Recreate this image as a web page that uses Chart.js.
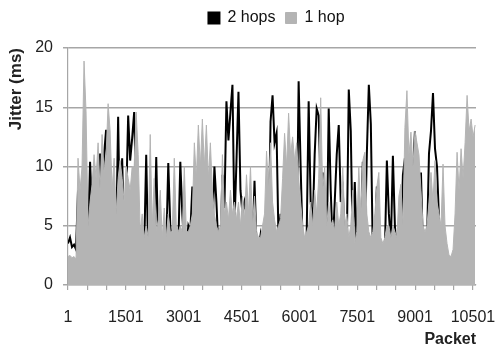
<!DOCTYPE html>
<html>
<head>
<meta charset="utf-8">
<script src="https://cdn.jsdelivr.net/npm/chart.js@4.4.0/dist/chart.umd.min.js"></script>
<style>
  html, body { margin: 0; padding: 0; background: #fff; }
  #wrap { width: 497px; height: 349px; }
</style>
</head>
<body>
<div id="wrap"><canvas id="grafico"></canvas></div>
<script>
// jitter, one sample every ~52 packets
var passoPacotes = 52;
var rotulosX = [1, 1501, 3001, 4501, 6001, 7501, 9001, 10501];

var umSalto = [
  2.4, 2.5, 2.3, 2.4, 2.2, 10.7, 8, 10, 18.9, 14.6,
  5, 7, 8.5, 11, 9, 12, 8, 12.7, 9.5, 11,
  15.3, 13, 8, 10.7, 6, 9, 10.5, 9, 7, 10,
  9, 8, 10, 10, 14.6, 11, 4.5, 6, 4, 5,
  4, 12.7, 5, 9, 4.5, 5.5, 8, 4, 6.5, 4,
  6, 4.5, 4.5, 10.7, 5, 4.5, 5, 4.5, 10, 4.5,
  4.5, 5, 6, 12, 9, 13.5, 10, 14, 10, 13.5,
  9, 12, 8, 6, 5, 4.5, 5, 11, 6, 7,
  5.5, 8, 6, 7, 5.5, 7, 5, 7.5, 5.5, 9.3,
  6, 10, 5, 7.5, 4.5, 4, 4, 5, 6, 11.3,
  8, 12, 7, 5.5, 4.5, 5, 5.6, 9, 12.8, 10,
  14.5, 11, 12.5, 10.5, 12, 9, 7, 5, 4, 4.5,
  5, 7, 5, 8, 6, 9, 15.8, 8, 10, 5,
  7, 5, 5.5, 4.5, 7, 5, 6, 10, 5, 6,
  4, 5, 8, 3.5, 4.5, 10, 6, 10.5, 11.2, 6,
  4.5, 4, 4.5, 6, 8.3, 9.5, 4, 3.5, 4, 5,
  5, 4, 5, 4.5, 4, 7.5, 8.5, 5, 13.3, 16.4,
  11, 12.9, 10, 13, 12, 11, 8, 5, 4.5, 5,
  7, 9.5, 7, 10.5, 7, 6, 5, 10.2, 5, 3.5,
  2.5, 2.4, 3, 6, 11.2, 8, 11.5, 9, 12, 16,
  13, 14, 12.5, 13.5
];

var doisSaltos = [
  3.5, 4.0, 3.2, 3.4, 3.0, 8.0, 4.8, 3.5, 3.3, 3.0,
  3.2, 10.4, 6, 3.5, 3.2, 4.5, 11.1, 8, 11, 13.1,
  6, 4, 3.5, 3.2, 3.4, 14.2, 3.3, 10.7, 3.5, 7,
  14.3, 10.5, 12.4, 14.6, 7.4, 3.0, 3.2, 3.0, 3.1, 11,
  2.4, 3, 3.2, 2.8, 10.8, 3.0, 2.8, 3.2, 3.5, 3.2,
  10.3, 5, 3.3, 3.0, 3.0, 3.1, 10.4, 6, 3.0, 3.2,
  5.0, 4.5, 8.3, 5, 4.5, 4, 4.5, 4, 7, 6,
  5, 4.5, 4.0, 10, 7, 3.1, 2.9, 9.3, 6.5, 15.5,
  12.2, 14.6, 16.9, 5, 10.4, 16.3, 8, 6, 7, 6,
  3.5, 3, 3.2, 8.8, 3.3, 2.9, 4.2, 2.8, 3, 3.2,
  3.5, 13.8, 16, 12, 12.8, 3.5, 6, 3.2, 3, 3,
  3.2, 3, 3, 3.2, 3.0, 17.2, 10, 3.5, 2.8, 4,
  15.5, 7, 5, 11, 14.9, 14.3, 8, 9.5, 5, 2.8,
  14.9, 8, 3.3, 7, 11, 13.5, 7, 8, 4, 3.0,
  16.5, 13, 3.0, 8.7, 2.8, 3, 3.2, 10.4, 3.5, 11,
  16.9, 13.6, 2.6, 3, 8.3, 3, 2.7, 2.6, 2.8, 10.5,
  6, 3.5, 10.9, 5, 2.8, 3, 3, 9.3, 10.7, 8,
  9, 5, 9.5, 13, 7, 5, 9.5, 3.0, 2.8, 3.5,
  11.1, 13, 16.2, 11.5, 10, 5.5
];

function MontarPontos(valores) {
  var pontos = [];
  var indice = 0;
  while (indice < valores.length) {
    pontos.push({ x: 1 + indice * passoPacotes, y: valores[indice] });
    indice++;
  }
  return pontos;
}

var fonte = "'Liberation Sans', Arial, sans-serif";
var corGrade = '#a6a6a6';
var corCinza = '#b4b4b4';

// extra room under the legend, and legend centred over the plot
var ajusteLegenda = {
  id: 'ajusteLegenda',
  beforeLayout: function (chart) {
    var leg = chart.legend;
    if (leg && !leg._ajustado) {
      var fitOriginal = leg.fit;
      leg.fit = function () {
        fitOriginal.call(this);
        this.height += 12;
      };
      leg._ajustado = true;
    }
  },
  afterLayout: function (chart) {
    var centro = (chart.chartArea.left + chart.chartArea.right) / 2 + 12;
    var desvio = centro - chart.width / 2;
    chart.legend.left += desvio;
    chart.legend.right += desvio;
  }
};

new Chart(document.getElementById('grafico'), {
  type: 'line',
  data: {
    datasets: [
      {
        label: '2 hops',
        data: MontarPontos(doisSaltos),
        borderColor: '#000',
        backgroundColor: '#000',
        borderWidth: 2,
        pointRadius: 0,
        fill: false,
        order: 2
      },
      {
        label: '1 hop',
        data: MontarPontos(umSalto),
        borderColor: corCinza,
        backgroundColor: corCinza,
        borderWidth: 1,
        pointRadius: 0,
        fill: 'origin',
        order: 1
      }
    ]
  },
  options: {
    responsive: true,
    maintainAspectRatio: false,
    animation: false,
    layout: { padding: { left: 6, right: 21, top: 0, bottom: 0 } },
    plugins: {
      legend: {
        position: 'top',
        labels: {
          boxWidth: 11,
          boxHeight: 11,
          padding: 10,
          color: '#111',
          font: { family: fonte, size: 16 },
          sort: function (a, b) { return a.datasetIndex - b.datasetIndex; }
        }
      },
      tooltip: { enabled: false }
    },
    scales: {
      x: {
        type: 'linear',
        min: 1,
        max: 10580,
        afterBuildTicks: function (escala) {
          var ticks = [];
          for (var v = 1; v <= 10501; v += 500) ticks.push({ value: v });
          escala.ticks = ticks;
        },
        afterFit: function (escala) {
          escala.height = 64;
          escala.paddingLeft = 0;
          escala.paddingRight = 0;
        },
        ticks: {
          autoSkip: false,
          maxRotation: 0,
          padding: 18,
          color: '#222',
          font: { family: fonte, size: 16 },
          callback: function (v) {
            return rotulosX.indexOf(v) >= 0 ? String(v) : '';
          }
        },
        grid: { drawOnChartArea: false, color: corGrade, lineWidth: 1.2, tickLength: 5 },
        border: { color: corGrade, width: 1.2 },
        title: {
          display: true,
          text: 'Packet',
          align: 'end',
          color: '#222',
          padding: 0,
          font: { family: fonte, size: 16, weight: 'bold' }
        }
      },
      y: {
        min: 0,
        max: 20,
        afterFit: function (escala) { escala.width = 62; },
        ticks: {
          stepSize: 5,
          padding: 10,
          color: '#222',
          font: { family: fonte, size: 16 }
        },
        grid: { color: corGrade, lineWidth: 1.5, tickLength: 5 },
        border: { color: corGrade, width: 1.2 },
        title: {
          display: true,
          text: 'Jitter (ms)',
          align: 'end',
          color: '#222',
          padding: 0,
          font: { family: fonte, size: 17, weight: 'bold' }
        }
      }
    }
  },
  plugins: [ajusteLegenda]
});
</script>
</body>
</html>
